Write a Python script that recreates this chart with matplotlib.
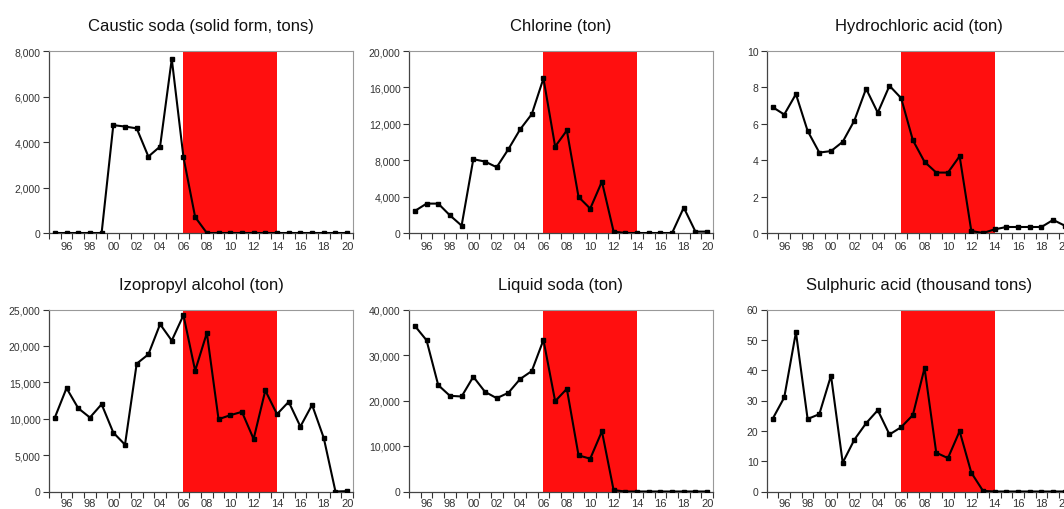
import numpy as np
import matplotlib.pyplot as plt
from matplotlib.ticker import FuncFormatter, FixedLocator

plt.rcParams['font.family'] = ['Liberation Sans', 'DejaVu Sans']

years = list(range(1995, 2021))

caustic_soda = [0, 0, 0, 0, 0, 4740, 4680, 4600, 3360, 3800, 7650, 3330, 700,
                0, 0, 0, 0, 0, 0, 0, 0, 0, 0, 0, 0, 0]
chlorine = [2420, 3230, 3230, 1940, 810, 8110, 7850, 7230, 9210, 11380, 13060, 16990, 9500,
            11270, 3960, 2680, 5650, 150, 0, 0, 0, 0, 0, 2790, 150, 150]
hydrochloric = [6.92, 6.51, 7.63, 5.61, 4.42, 4.50, 5.01, 6.18, 7.93, 6.61, 8.09, 7.41, 5.10,
                3.91, 3.32, 3.32, 4.22, 0.11, 0.0, 0.2, 0.33, 0.33, 0.33, 0.33, 0.72, 0.4]
izopropyl = [10160, 14200, 11440, 10160, 11990, 8090, 6430, 17560, 18840, 22980, 20730, 24220, 16590,
             21780, 9930, 10480, 10940, 7210, 13880, 10620, 12320, 8920, 11900, 7350, 0, 50]
liquid_soda = [36400, 33240, 23380, 21030, 20880, 25220, 21910, 20510, 21690, 24710, 26470, 33310, 19850,
               22570, 7940, 7210, 13240, 300, 0, 0, 0, 0, 0, 0, 0, 0]
sulphuric = [23.9, 31.0, 52.5, 23.9, 25.5, 38.2, 9.5, 17.1, 22.5, 26.8, 18.8, 21.2, 25.2,
             40.7, 12.8, 11.0, 19.9, 6.2, 0.2, 0, 0, 0, 0, 0, 0, 0]

titles = ["Caustic soda (solid form, tons)", "Chlorine (ton)", "Hydrochloric acid (ton)",
          "Izopropyl alcohol (ton)", "Liquid soda (ton)", "Sulphuric acid (thousand tons)"]
series = [caustic_soda, chlorine, hydrochloric, izopropyl, liquid_soda, sulphuric]
y_max = [8000, 20000, 10, 25000, 40000, 60]
y_step = [2000, 4000, 2, 5000, 10000, 10]

shade_start, shade_end = 2006, 2014

W, H = 1064, 510
fig = plt.figure(figsize=(W / 100, H / 100), dpi=100)

lefts = [49, 409, 766.7]
tops = [52, 310.5]
ax_w, ax_h = 304, 182
xlabel_pad = [6, 4.5]

for i, (title, vals) in enumerate(zip(titles, series)):
    r, c = divmod(i, 3)
    ax = fig.add_axes([lefts[c] / W, (H - tops[r] - ax_h) / H, ax_w / W, ax_h / H])
    ax.axvspan(shade_start, shade_end, color='#ff0f0f', lw=0, zorder=0)
    ax.plot(years, vals, color='black', lw=1.5, marker='s', ms=3.2, zorder=3)
    ax.set_xlim(1994.5, 2020.5)
    ax.set_ylim(0, y_max[i])
    ax.set_yticks(np.arange(0, y_max[i] + 1e-9, y_step[i]))
    ax.yaxis.set_major_formatter(FuncFormatter(lambda v, p: f"{v:,.0f}"))
    ax.set_xticks(range(1996, 2021, 2))
    ax.set_xticklabels([f"{y % 100:02d}" for y in range(1996, 2021, 2)])
    ax.xaxis.set_minor_locator(FixedLocator(np.arange(1994.5, 2020.6, 1)))
    ax.tick_params(axis='x', which='major', length=0, pad=xlabel_pad[r], labelsize=8, colors='#333333')
    ax.tick_params(axis='x', which='minor', length=4, width=0.8, color='#333333')
    ax.tick_params(axis='y', length=4, width=0.8, pad=2, labelsize=7.5, colors='#333333')
    for side in ['left', 'bottom']:
        ax.spines[side].set_color('#444444')
        ax.spines[side].set_linewidth(0.9)
    for side in ['top', 'right']:
        ax.spines[side].set_color('#999999')
        ax.spines[side].set_linewidth(0.8)
    ax.set_title(title, fontsize=12, pad=15, color='#111111')

fig.savefig("out.png", dpi=100)
